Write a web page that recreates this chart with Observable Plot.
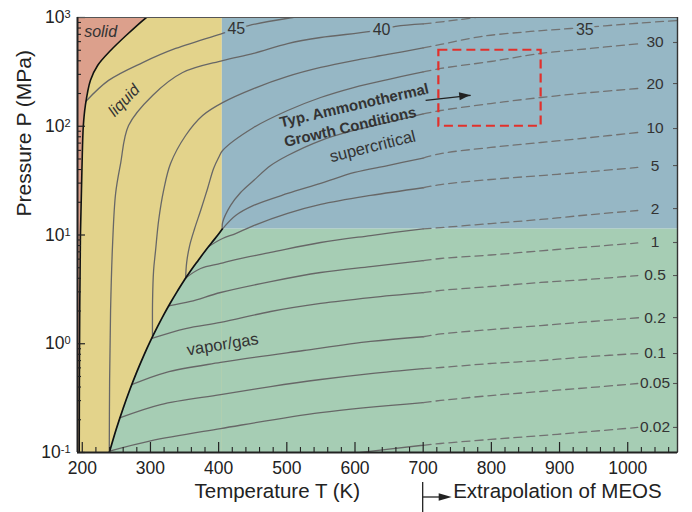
<!DOCTYPE html>
<html><head><meta charset="utf-8">
<script src="https://cdn.jsdelivr.net/npm/d3@7"></script>
<script src="https://cdn.jsdelivr.net/npm/@observablehq/plot@0.6"></script>
<style>
body{margin:0;background:#fff;}
#chart{width:692px;height:512px;}
</style></head><body><div id="chart"></div>
<script>
// ---------- scales / ticks ----------
const xDomain = [193, 1073];
const yDomain = [0.1, 1000];
const Tc = 405.4, Pc = 11.33;
const tExtrap = 700;
const xTicks = [200,300,400,500,600,700,800,900,1000];
const xMinor = [220,240,260,280,320,340,360,380,420,440,460,480,520,540,560,580,620,640,660,680,720,740,760,780,820,840,860,880,920,940,960,980,1020,1040,1060];
const yTicks = [0.1,1,10,100,1000];
const yMinor = [0.2,0.3,0.4,0.5,0.6,0.7,0.8,0.9,2,3,4,5,6,7,8,9,20,30,40,50,60,70,80,90,200,300,400,500,600,700,800,900];

// ---------- phase boundaries ----------
const vaporT = [239.7,250,260,270,280,290,300,310,320,330,340,350,360,370,380,390,400,405.4];
const vaporP = [0.1,0.165,0.255,0.381,0.551,0.774,1.061,1.42,1.872,2.42,3.08,3.88,4.79,5.84,7.10,8.52,10.2,11.33];
const meltT = [195.5,196,197.3,199.5,201.5,204.5,212,222.5,241.5,265,294,300];
const meltP = [0.1,1,10,40,100,155,265,362,497,690,1000,1060];

// ---------- isochores [T (K), P (MPa)] ----------
const iso45 = [[205.5,170],[238.6,264],[288.5,385],[336.9,519],[405.8,713],[444,844],[508.6,1000],[549.6,1088]];
const iso40 = [[239.6,0.1],[240.1,0.46],[241.5,2.02],[244.5,8.36],[248.9,24.1],[256.2,45.4],[267.9,101.6],[303.1,192],[347.2,312],[405.8,402],[451.3,467],[501.2,576],[549.6,655],[623,744],[659.6,827],[700,872],[755,959],[790,1030]];
const iso35 = [[303,1.16],[303.1,2.5],[304.6,4.72],[307.5,7.2],[312,13.6],[319.3,25.7],[329.5,45.4],[351.6,82.2],[376.5,125.6],[405.8,165],[451.3,222],[501.2,287],[549.6,347],[598,402],[647.9,457],[700,525],[725.7,565],[784.4,668],[857.7,744],[916.4,792],[1019,890],[1073.4,938]];
const iso30 = [[351.6,4.03],[353.1,5.58],[357.5,8.0],[364.8,11.47],[373.6,16.8],[383.8,26.8],[392.6,40.9],[400,51.6],[405.8,59.8],[451.3,97.4],[501.2,139.6],[549.6,183.8],[598,227],[647.9,269],[700,316],[725.7,340],[799,394],[872.4,467],[945.7,519],[1019,576]];
const iso20 = [[405.4,11.33],[405.8,13.0],[417.6,18.7],[432.2,24.6],[451.3,31.7],[476.3,43.5],[501.2,53.8],[549.6,73.9],[598,91.4],[647.9,108.3],[700,130],[725.7,139.6],[799,161.8],[872.4,183.8],[945.7,204.3],[1014.7,222.5]];
const iso10 = [[405.4,11.33],[424.9,15.1],[451.3,18.7],[501.2,24.1],[549.6,29.8],[599.5,37.6],[647.9,43.5],[700,51],[725.7,56.1],[799,63.8],[872.4,70.9],[945.7,78.8],[1014.7,87.6]];
const iso5 = [[385.3,7.85],[405.8,9.29],[424.9,10.3],[451.3,12.2],[501.2,15.8],[549.6,19.1],[623,23.1],[700,27.2],[725.7,29.1],[799,32.4],[872.4,35.2],[945.7,38.3],[1014.7,41.8]];
const iso2 = [[351.6,4.03],[373.6,4.92],[402.9,5.47],[424.9,5.95],[476.3,6.91],[549.6,8.53],[623,9.89],[700,11.4],[725.7,11.7],[799,12.75],[872.4,13.9],[945.7,15.4],[1014.7,16.8]];
const iso1 = [[326.6,2.23],[358.9,2.45],[402.9,2.96],[476.3,3.73],[549.6,4.52],[623,5.13],[700,5.8],[725.7,6.08],[799,6.55],[872.4,7.15],[945.7,7.8],[1014.7,8.45]];
const iso05 = [[302,1.12],[351.6,1.38],[402.9,1.57],[476.3,1.98],[549.6,2.35],[623,2.66],[700,2.95],[725.7,3.09],[799,3.36],[872.4,3.66],[945.7,3.92],[1014.7,4.24]];
const iso02 = [[272.3,0.42],[322.2,0.544],[402.9,0.673],[524.7,0.867],[623,1.05],[700,1.16],[725.7,1.23],[799,1.35],[872.4,1.47],[945.7,1.60],[1019,1.74]];
const iso01 = [[254.8,0.208],[314.9,0.276],[402.9,0.341],[476.3,0.404],[549.6,0.469],[623,0.532],[700,0.591],[725.7,0.605],[799,0.658],[872.4,0.701],[945.7,0.763],[1014.7,0.813]];
const iso005 = [[240,0.103],[300.2,0.128],[402.9,0.166],[549.6,0.233],[700,0.288],[725.7,0.301],[799,0.334],[872.4,0.364],[945.7,0.396],[1014.7,0.431]];
const iso002 = [[560,0.093],[608.3,0.1],[696.3,0.116],[700,0.1165],[725.7,0.121],[799,0.132],[872.4,0.143],[945.7,0.156],[1014.7,0.170]];

// ---------- labels ----------
const rightLabels = ["30","20","10","5","2","1","0.5","0.2","0.1","0.05","0.02"];
const rightLabelP = [589,247,95.3,43.5,17.5,8.53,4.24,1.74,0.813,0.431,0.170];
const rightLabelT = 1040;
const inlineLabels = ["45","40","35"];
const inlineT = [426,639,937];
const inlineP = [792,776,776];
const boxT = [723, 873];
const boxP = [100, 500];
const arrowFrom = [703.6, 172.6];
const arrowTo = [769.7, 192];

// ---------- colors ----------
const cSolid = "#dca08c", cLiquid = "#e3d38b", cSuper = "#96b7c5", cGas = "#a6cdb4";
const font = "Liberation Sans, Arial, Helvetica, sans-serif";

// ---------- build tables ----------
const vapor = vaporT.map((T,i)=>({T, P: vaporP[i]}));
const melt = meltT.map((T,i)=>({T, P: meltP[i]}));
const isochores = [["45",iso45],["40",iso40],["35",iso35],["30",iso30],["20",iso20],["10",iso10],["5",iso5],["2",iso2],["1",iso1],["0.5",iso05],["0.2",iso02],["0.1",iso01],["0.05",iso005],["0.02",iso002]];
const solidRows = [], dashRows = [];
for (const [id, pts] of isochores) {
  for (const [T,P] of pts) {
    if (T <= tExtrap) solidRows.push({id,T,P});
    if (T >= tExtrap) dashRows.push({id,T,P});
  }
}
const rightRows = rightLabels.map((t,i)=>({t, T: rightLabelT, P: rightLabelP[i]}));
const inlineRows = inlineLabels.map((t,i)=>({t, T: inlineT[i], P: inlineP[i]}));
const notes = [
  {t:"solid", T:226.9, P:744, r:0, style:"italic", w:"normal", s:16},
  {t:"liquid", T:261.3, P:172.6, r:-46, style:"italic", w:"normal", s:16},
  {t:"supercritical", T:625.9, P:65.1, r:-14, style:"normal", w:"normal", s:16.5},
  {t:"vapor/gas", T:405.9, P:0.984, r:-9, style:"normal", w:"normal", s:16.5},
  {t:"Typ. Ammonothermal", T:598.8, P:155, r:-13, style:"normal", w:"bold", s:15},
  {t:"Growth Conditions", T:592.9, P:98.4, r:-13, style:"normal", w:"bold", s:15}
];

const plotW = 600, plotH = 435;
const plot = Plot.plot({
  width: 692, height: 512,
  marginTop: 17, marginLeft: 77, marginRight: 15, marginBottom: 60,
  style: {fontFamily: font, fontSize: "17.5px", color: "#222", background: "#fff", overflow: "visible"},
  x: {domain: xDomain, ticks: xTicks, tickSize: 0, tickPadding: 9, label: null, tickFormat: d => String(d)},
  y: {type: "log", domain: yDomain, ticks: yTicks, tickSize: 0, tickPadding: 7, label: null,
      tickFormat: d => "10^" + Math.round(Math.log10(d))},
  marks: [
    Plot.rect([{x1: xDomain[0], x2: Tc, y1: yDomain[0], y2: yDomain[1]}], {x1:"x1", x2:"x2", y1:"y1", y2:"y2", fill: cLiquid}),
    Plot.rect([{x1: Tc, x2: xDomain[1], y1: Pc, y2: yDomain[1]}], {x1:"x1", x2:"x2", y1:"y1", y2:"y2", fill: cSuper}),
    Plot.rect([{x1: Tc, x2: xDomain[1], y1: yDomain[0], y2: Pc}], {x1:"x1", x2:"x2", y1:"y1", y2:"y2", fill: cGas}),
    Plot.areaY(vapor, {x:"T", y1: yDomain[0], y2:"P", fill: cGas, curve:"catmull-rom"}),
    Plot.areaX(melt, {y:"P", x1: xDomain[0], x2:"T", fill: cSolid, curve:"catmull-rom", clip: true}),
    Plot.line(solidRows, {x:"T", y:"P", z:"id", stroke:"#676767", strokeWidth:1.3, curve:"catmull-rom", clip:true}),
    Plot.line(dashRows, {x:"T", y:"P", z:"id", stroke:"#727272", strokeWidth:1.3, strokeDasharray:"8,5", curve:"catmull-rom", clip:true}),
    Plot.line(vapor, {x:"T", y:"P", stroke:"#111", strokeWidth:1.7, curve:"catmull-rom", clip:true}),
    Plot.line(melt, {x:"T", y:"P", stroke:"#111", strokeWidth:1.6, curve:"catmull-rom", clip:true}),
    Plot.rect([{x1: boxT[0], x2: boxT[1], y1: boxP[0], y2: boxP[1]}], {x1:"x1", x2:"x2", y1:"y1", y2:"y2", fill:"none", stroke:"#e2302b", strokeWidth:2.2, strokeDasharray:"9,5"}),
    Plot.link([{x1: arrowFrom[0], y1: arrowFrom[1], x2: arrowTo[0], y2: arrowTo[1]}], {x1:"x1", y1:"y1", x2:"x2", y2:"y2", stroke:"#222", strokeWidth:1.3}),
    Plot.text(inlineRows, {x:"T", y:"P", text:"t", fill:"#333", stroke: cSuper, strokeWidth: 6, fontSize: 16}),
    Plot.text(rightRows, {x:"T", y:"P", text:"t", fill:"#333", fontSize: 15.5}),
    ...notes.map(n => Plot.text([n], {x:"T", y:"P", text:"t", rotate: n.r, fontStyle: n.style, fontWeight: n.w, fontSize: n.s, fill:"#333"})),
    Plot.ruleX(xTicks, {stroke:"#222", strokeWidth:1.2, insetTop: plotH - 10}),
    Plot.ruleX(xMinor, {stroke:"#222", strokeWidth:1.1, insetTop: plotH - 5}),
    Plot.ruleY(yTicks, {stroke:"#222", strokeWidth:1.2, insetRight: plotW - 8}),
    Plot.ruleY(yMinor, {stroke:"#222", strokeWidth:1.1, insetRight: plotW - 4}),
    Plot.ruleY(rightLabelP, {stroke:"#555", strokeWidth:1.1, insetLeft: plotW - 4}),
    Plot.frame({stroke:"#555", strokeWidth:1}),
    Plot.ruleX([xDomain[1]], {stroke:"#333", strokeWidth:1.4}),
    Plot.ruleX([xDomain[0]], {stroke:"#222", strokeWidth:2}),
    Plot.ruleY([yDomain[0]], {stroke:"#222", strokeWidth:2}),
    Plot.text(["Pressure P (MPa)"], {frameAnchor:"left", dx:-53, rotate:-90, fontSize:21, fill:"#222", text: d => d, y: 14.8}),
    Plot.text(["Temperature T (K)"], {frameAnchor:"bottom", x: 486, dy: 45, fontSize:20.5, fill:"#222", text: d => d}),
    Plot.text(["Extrapolation of MEOS"], {frameAnchor:"bottom", x: tExtrap, dx: 30, dy: 45, textAnchor:"start", fontSize:20.5, fill:"#222", text: d => d})
  ]
});
document.getElementById("chart").appendChild(plot);

// ---------- post-processing: superscripts, arrowheads ----------
const NS = "http://www.w3.org/2000/svg";
plot.querySelectorAll("text").forEach(t => {
  const m = /^10\^(-?\d+)$/.exec(t.textContent);
  if (m) {
    t.textContent = "10";
    const sup = document.createElementNS(NS, "tspan");
    sup.setAttribute("dy", "-0.45em");
    sup.setAttribute("font-size", "11");
    sup.textContent = m[1];
    t.appendChild(sup);
  }
});
const sx = plot.scale("x"), sy = plot.scale("y");
function addEl(tag, attrs) {
  const e = document.createElementNS(NS, tag);
  for (const k in attrs) e.setAttribute(k, attrs[k]);
  plot.appendChild(e);
  return e;
}
// data arrow head
{
  const x1 = sx.apply(arrowFrom[0]), y1 = sy.apply(arrowFrom[1]);
  const x2 = sx.apply(arrowTo[0]), y2 = sy.apply(arrowTo[1]);
  const L = Math.hypot(x2-x1, y2-y1), ux = (x2-x1)/L, uy = (y2-y1)/L;
  const bx = x2 - 11*ux, by = y2 - 11*uy, nx = -uy, ny = ux;
  addEl("polygon", {points: `${x2},${y2} ${bx+4*nx},${by+4*ny} ${bx-4*nx},${by-4*ny}`, fill: "#222"});
}
// extrapolation marker
{
  const xp = sx.apply(tExtrap), yb = 497;
  addEl("line", {x1: xp, x2: xp, y1: 482, y2: 512, stroke: "#222", "stroke-width": 1.3});
  addEl("line", {x1: xp, x2: xp + 18, y1: yb, y2: yb, stroke: "#222", "stroke-width": 1.3});
  addEl("polygon", {points: `${xp+29},${yb} ${xp+16},${yb-3.8} ${xp+16},${yb+3.8}`, fill: "#222"});
}
</script></body></html>
